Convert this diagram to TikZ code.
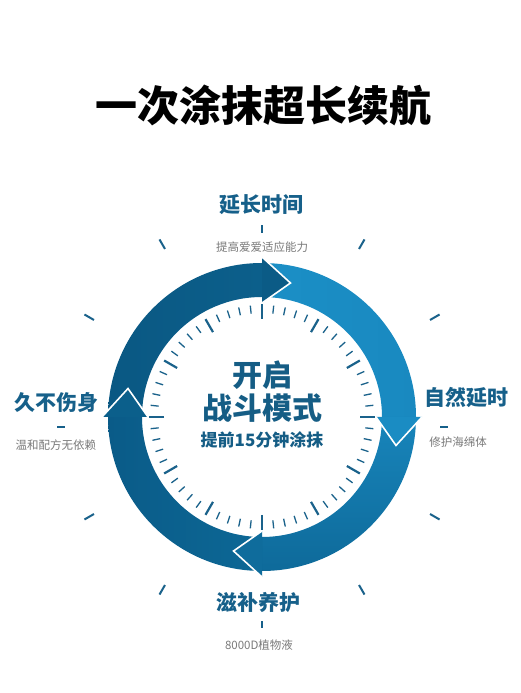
\documentclass[tikz,border=0pt]{standalone}
\usepackage{fontspec}
\newfontfamily\cjk{Noto Sans CJK SC}
\definecolor{labblue}{HTML}{16608A}
\definecolor{cenblue}{HTML}{155D85}
\definecolor{tickblue}{HTML}{1A628B}
\definecolor{subgray}{HTML}{7A7A7A}
\definecolor{segA}{HTML}{0B5B86}
\definecolor{segB}{HTML}{1A8CC3}
\definecolor{segC}{HTML}{0F6C9C}
\definecolor{segD}{HTML}{0B5F8B}
\definecolor{bandAl}{HTML}{0A5883}
\definecolor{bandAr}{HTML}{0C5F8B}
\definecolor{bandBl}{HTML}{1B8FC6}
\definecolor{bandBr}{HTML}{1989C0}
\definecolor{bandCt}{HTML}{1885BB}
\definecolor{bandCb}{HTML}{0E6A9A}
\definecolor{bandDl}{HTML}{0A5B88}
\definecolor{bandDr}{HTML}{0D6896}
\tikzset{
  title/.style={font={\cjk\bfseries\fontsize{42}{42}\selectfont}, text=black, inner sep=0pt},
  lab/.style={font={\cjk\bfseries\fontsize{21}{21}\selectfont}, text=labblue, inner sep=0pt},
  sub/.style={font={\cjk\fontsize{11.5}{11.5}\selectfont}, text=subgray, inner sep=0pt},
  cenbig/.style={font={\cjk\bfseries\fontsize{30}{30}\selectfont}, text=cenblue, inner sep=0pt},
  censmall/.style={font={\cjk\bfseries\fontsize{17}{17}\selectfont}, text=cenblue, inner sep=0pt},
  dashmark/.style={draw=labblue, line width=2.4pt},
  tickmajor/.style={draw=tickblue, line width=2.2pt},
  tickminor/.style={draw=tickblue, line width=1.3pt},
  tickouter/.style={draw=tickblue, line width=2pt},
  gapline/.style={draw=white, line width=1.6pt, line join=miter},
}
\newcommand\arrowhd[2]{%
  \fill[#2] (#1:114) -- ({#1-12}:137) -- (#1:160) -- cycle;
  \draw[gapline] (#1:114) -- ({#1-12}:137) -- (#1:160);
}
\begin{document}
\begin{tikzpicture}[x=1pt,y=1pt]
\useasboundingbox (0,0) rectangle (520,693);
\fill[white] (0,0) rectangle (520,693);

% title
\node[title] (title) at (263,588) {一次涂抹超长续航};

\begin{scope}[shift={(262,276)}]
  % bands
  \shade[left color=bandAl, right color=bandAr]
    (180:120) arc[start angle=180,end angle=90,radius=120] -- (90:154) arc[start angle=90,end angle=180,radius=154] -- cycle;
  \shade[left color=bandBl, right color=bandBr]
    (90:120) arc[start angle=90,end angle=0,radius=120] -- (0:154) arc[start angle=0,end angle=90,radius=154] -- cycle;
  \shade[top color=bandCt, bottom color=bandCb]
    (0:120) arc[start angle=0,end angle=-90,radius=120] -- (-90:154) arc[start angle=-90,end angle=0,radius=154] -- cycle;
  \shade[left color=bandDl, right color=bandDr]
    (-90:120) arc[start angle=-90,end angle=-180,radius=120] -- (-180:154) arc[start angle=-180,end angle=-90,radius=154] -- cycle;
  % arrowheads
  \arrowhd{90}{segA}
  \arrowhd{0}{segB}
  \arrowhd{-90}{segC}
  \arrowhd{180}{segD}
  % inner clock ticks
  \foreach \i in {0,...,59}{
    \pgfmathtruncatemacro\m{mod(\i,5)}
    \ifnum\m=0
      \draw[tickmajor] ({90-6*\i}:98) -- ({90-6*\i}:113);
    \else
      \draw[tickminor] ({90-6*\i}:104) -- ({90-6*\i}:112);
    \fi
  }
  % outer ticks
  \foreach \a in {30,60,120,150,210,240,300,330}{
    \draw[tickouter] (\a:194) -- (\a:205);
  }
\end{scope}

% centre text
\node[cenbig] (c1) at (262,318) {开启};
\node[cenbig] (c2) at (262,285) {战斗模式};
\node[censmall] (c3) at (262,253) {提前15分钟涂抹};

% top label
\node[lab] (l1) at (261,488) {延长时间};
\draw[dashmark] (262,460) -- (262,468);
\node[sub] (s1) at (262,446) {提高爱爱适应能力};

% left label
\node[lab] (l2) at (56,290) {久不伤身};
\draw[dashmark] (57,266) -- (65,266);
\node[sub] (s2) at (56,248) {温和配方无依赖};

% right label
\node[lab] (l3) at (466,296) {自然延时};
\draw[dashmark] (440,266) -- (448,266);
\node[sub] (s3) at (458,251) {修护海绵体};

% bottom label
\node[lab] (l4) at (258,91) {滋补养护};
\draw[dashmark] (262,65) -- (262,72);
\node[sub] (s4) at (259,48) {8000D植物液};
\end{tikzpicture}
\end{document}
